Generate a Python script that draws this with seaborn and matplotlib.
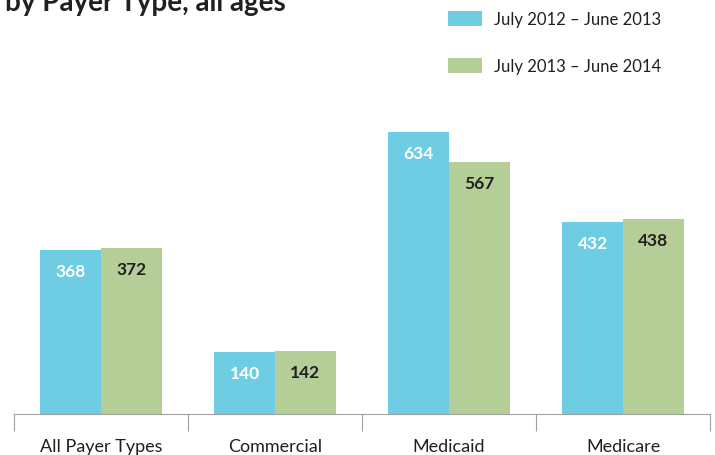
import matplotlib
matplotlib.use("Agg")
import matplotlib.pyplot as plt
from matplotlib.patches import Patch
import seaborn as sns
import pandas as pd

# Data
categories = ["All Payer Types", "Commercial", "Medicaid", "Medicare"]
periods = ["July 2012 \u2013 June 2013", "July 2013 \u2013 June 2014"]
values_2012_13 = [368, 140, 634, 432]
values_2013_14 = [372, 142, 567, 438]

colors = ["#6ECDE3", "#B5CD96"]
label_colors = ["white", "#231F20"]

df = pd.DataFrame({
    "category": categories * 2,
    "period": [periods[0]] * len(categories) + [periods[1]] * len(categories),
    "value": values_2012_13 + values_2013_14,
})

sns.set_theme(style="white")
plt.rcParams["font.family"] = ["Lato", "DejaVu Sans"]

fig = plt.figure(figsize=(7.15, 4.56), dpi=100)
ax = fig.add_axes([14 / 715, 41 / 456, 696 / 715, 315 / 456])

sns.barplot(data=df, x="category", y="value", hue="period",
            palette=colors, width=0.70, saturation=1, ax=ax,
            legend=False, linewidth=0)

ax.set_xlim(-0.5, 3.5)
ax.set_ylim(0, 708)
ax.set_xlabel("")
ax.set_ylabel("")
ax.set_yticks([])

# Category boundaries as ticks, labels at centres
ax.set_xticks([-0.5, 0.5, 1.5, 2.5, 3.5], minor=False)
ax.set_xticklabels([])
ax.set_xticks(range(len(categories)), minor=True)
ax.set_xticklabels(categories, minor=True, fontsize=13, color="#231F20")
ax.tick_params(axis="x", which="major", bottom=True, length=12, width=0.8,
               color="#A0A0A0", direction="out")
ax.tick_params(axis="x", which="minor", bottom=True, length=0, pad=17.5)

for side in ["top", "right", "left"]:
    ax.spines[side].set_visible(False)
ax.spines["bottom"].set_color("#A0A0A0")
ax.spines["bottom"].set_linewidth(0.8)

# Value labels inside the top of each bar
for container, vals, tc in zip(ax.containers, [values_2012_13, values_2013_14], label_colors):
    for bar, v in zip(container, vals):
        ax.annotate(f"{v}", xy=(bar.get_x() + bar.get_width() / 2, v),
                    xytext=(0, -15), textcoords="offset points",
                    ha="center", va="center", fontsize=12.5, fontweight="bold",
                    color=tc)

# Legend
handles = [Patch(facecolor=c, edgecolor="none") for c in colors]
fig.legend(handles, periods, loc="upper left",
           bbox_to_anchor=(433 / 715, 1 + 3 / 456), frameon=False,
           fontsize=12, handlelength=2.04, handleheight=1.02,
           labelspacing=1.85, handletextpad=0.72, labelcolor="#231F20")

# Title line
fig.text(5 / 715, 1 - 11 / 456, "by Payer Type, all ages", fontsize=20,
         fontweight="bold", color="#231F20", ha="left", va="baseline")

fig.savefig("out.png", dpi=100)
